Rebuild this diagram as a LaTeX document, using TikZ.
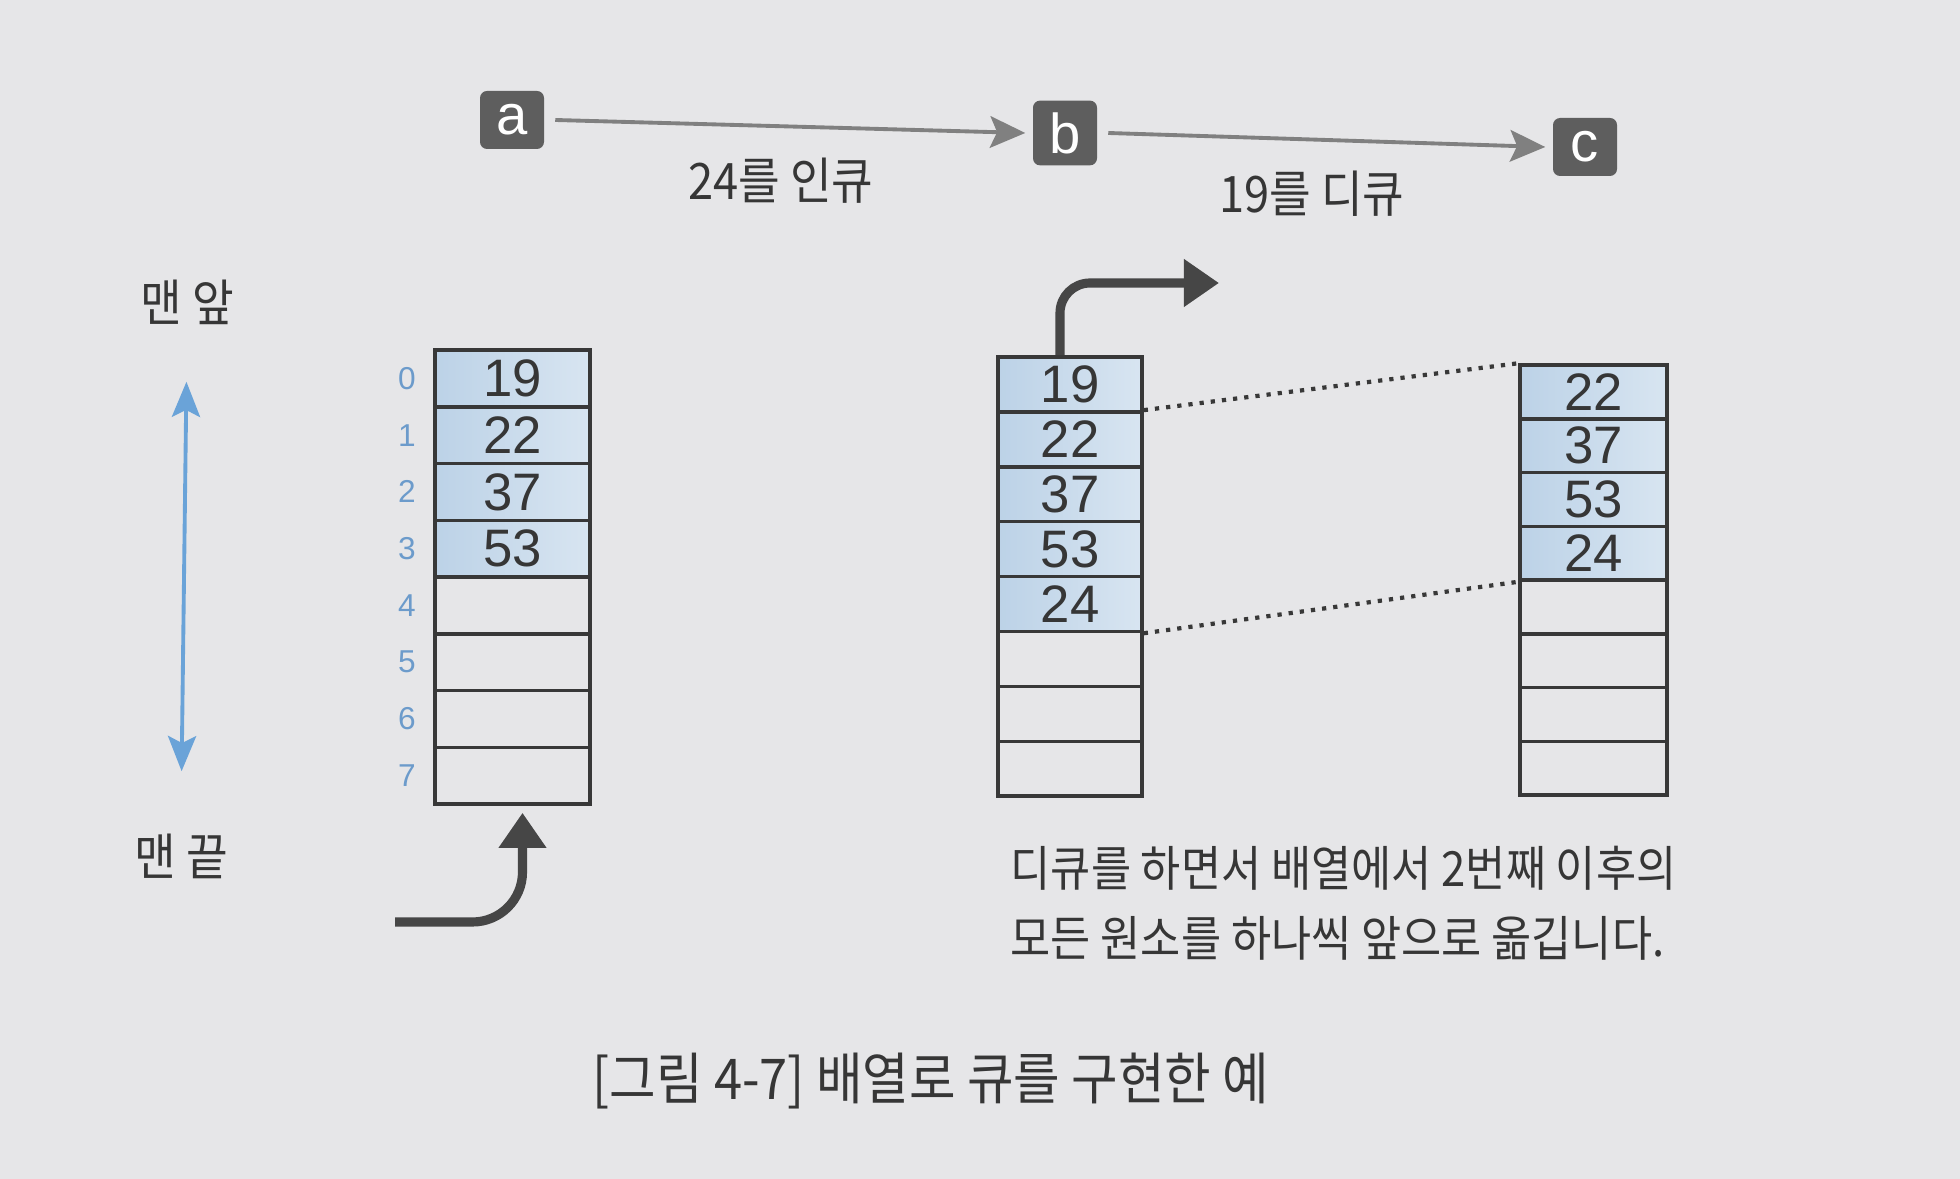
\documentclass[tikz,border=0pt]{standalone}
\usepackage{fontspec}
\setmainfont[FakeStretch=0.9]{Noto Sans CJK KR}
\newfontfamily\numfont{Liberation Sans}
\usetikzlibrary{arrows.meta}

\definecolor{pagebg}{HTML}{E6E6E8}
\definecolor{txt}{HTML}{363636}
\definecolor{tagbg}{HTML}{5E5E5E}
\definecolor{flowgray}{HTML}{808080}
\definecolor{movegray}{HTML}{464646}
\definecolor{cellline}{HTML}{383838}
\definecolor{blueL}{HTML}{BCD2E7}
\definecolor{blueR}{HTML}{D8E5F1}
\definecolor{idxblue}{HTML}{6C9BCB}
\definecolor{arrowblue}{HTML}{6AA3D8}

\begin{document}
\begin{tikzpicture}[
  cell/.style={draw=cellline, line width=1pt, inner sep=0pt, text=txt, font=\numfont\fontsize{15}{15}\selectfont},
  full/.style={left color=blueL, right color=blueR},
  tag/.style={fill=tagbg, rounded corners=2pt, minimum width=0.64cm, minimum height=0.58cm, text=white, font=\numfont\fontsize{16}{16}\selectfont},
  flow/.style={draw=flowgray, line width=1.1pt, -{Stealth[length=10pt,width=9pt,inset=2pt]}},
  move/.style={draw=movegray, line width=2.6pt, -{Triangle[length=10pt,width=13pt]}},
  ends/.style={draw=arrowblue, line width=1.1pt, {Stealth[length=10pt,width=8pt,inset=2pt]}-{Stealth[length=10pt,width=8pt,inset=2pt]}},
  label/.style={text=txt, font=\fontsize{14.3}{14.3}\selectfont},
  idx/.style={text=idxblue, font=\numfont\fontsize{9}{9}\selectfont}
]
  \useasboundingbox (0,0) rectangle (19.6,-11.79);
  \fill[pagebg] (0,0) rectangle (19.6,-11.79);

  \node[tag] (ta) at (5.12,-1.20) {a};
  \node[tag] (tb) at (10.65,-1.33) {b};
  \node[tag] (tc) at (15.85,-1.47) {c};
  \draw[flow] ([xshift=3pt]ta.east) -- ([xshift=-2pt]tb.west);
  \draw[flow] ([xshift=3pt]tb.east) -- ([xshift=-2pt]tc.west);
  \node[label] (enqtxt) at (7.81,-1.81) {24를 인큐};
  \node[label] (deqtxt) at (13.12,-1.94) {19를 디큐};

  \node[label] (front) at (1.87,-3.02) {맨 앞};
  \node[label] (back) at (1.81,-8.56) {맨 끝};
  \draw[ends, shorten <=0.45cm, shorten >=0.5cm] (front.south) -- (back.north);

  \foreach \v [count=\i from 0] in {19,22,37,53}
    \node[cell,full,minimum width=1.55cm,minimum height=0.5675cm] (L\i) at (5.125,-3.784-0.5675*\i) {\v};
  \foreach \i in {4,...,7}
    \node[cell,minimum width=1.55cm,minimum height=0.5675cm] (L\i) at (5.125,-3.784-0.5675*\i) {};
  \foreach \i in {0,...,7}
    \node[idx] (n\i) at (4.07,-3.784-0.5675*\i) {\i};

  \foreach \v [count=\i from 0] in {19,22,37,53,24}
    \node[cell,full,minimum width=1.44cm,minimum height=0.549cm] (M\i) at (10.70,-3.8445-0.549*\i) {\v};
  \foreach \i in {5,...,7}
    \node[cell,minimum width=1.44cm,minimum height=0.549cm] (M\i) at (10.70,-3.8445-0.549*\i) {};

  \foreach \v [count=\i from 0] in {22,37,53,24}
    \node[cell,full,minimum width=1.47cm,minimum height=0.5375cm] (R\i) at (15.935,-3.919-0.5375*\i) {\v};
  \foreach \i in {4,...,7}
    \node[cell,minimum width=1.47cm,minimum height=0.5375cm] (R\i) at (15.935,-3.919-0.5375*\i) {};

  \draw[dotted, line width=1.2pt, cellline] (M1.north east) -- (R0.north west);
  \draw[dotted, line width=1.2pt, cellline] (M4.south east) -- (R3.south west);

  \coordinate (enq) at (3.95,-9.22);
  \draw[move, rounded corners=0.5cm, shorten >=2pt] (enq) -| ([xshift=0.1cm]L7.south);
  \coordinate (deq) at (12.19,-2.83);
  \draw[move, rounded corners=0.3cm] ([xshift=-0.1cm]M0.north) |- (deq);

  \node[label, align=left, anchor=west, inner sep=0pt, font=\fontsize{13.8}{20}\selectfont] (note) at (10.10,-9.03)
    {디큐를 하면서 배열에서 2번째 이후의\\모든 원소를 하나씩 앞으로 옮깁니다.};
  \node[label, font=\fontsize{16}{16}\selectfont] (cap) at (9.31,-10.81) {[그림 4-7] 배열로 큐를 구현한 예};
\end{tikzpicture}
\end{document}
